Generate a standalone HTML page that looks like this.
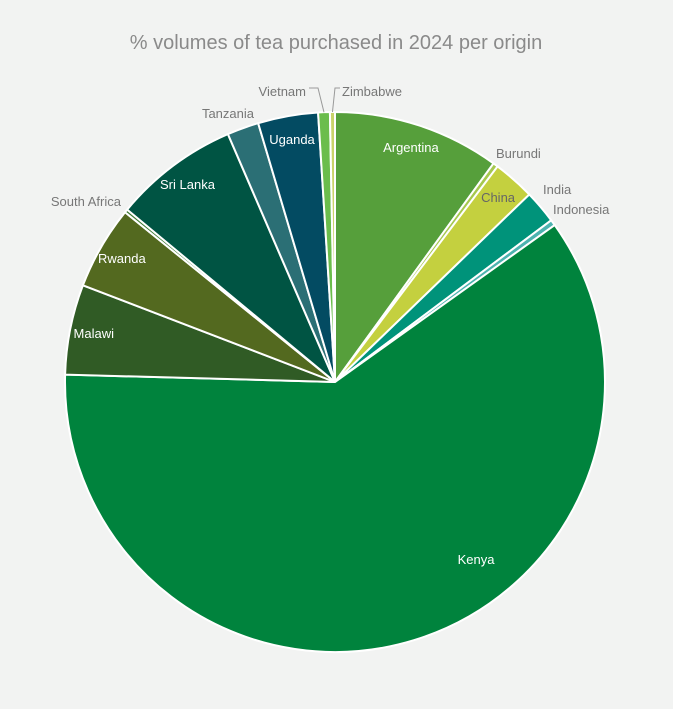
<!DOCTYPE html>
<html><head><meta charset="utf-8"><style>
body{margin:0;background:#f2f3f2;}
svg{display:block;font-family:"Liberation Sans",sans-serif;}
</style></head><body>
<svg width="673" height="709">
<rect width="673" height="709" fill="#f2f3f2"/>
<text x="336" y="49" text-anchor="middle" font-size="20" fill="#8a8a8a">% volumes of tea purchased in 2024 per origin</text>
<g id="slices"></g><g id="labels"></g>
</svg>
<script>
const categories=["Argentina","Burundi","China","India","Indonesia","Kenya","Malawi","Rwanda","South Africa","Sri Lanka","Tanzania","Uganda","Vietnam","Zimbabwe"];
const values=[10.0,0.3,2.5,2.0,0.35,60.4,5.4,5.0,0.2,7.5,1.9,3.6,0.7,0.3];
const colors=["#569f3b","#a6c84e","#c4d03f","#00937a","#4db3b0","#00833d","#305b25","#53691f","#3e7a33","#005443","#2b6f75","#034b62","#6bbd4c","#c9d36a"];
const inside=[true,false,true,false,false,true,true,true,false,true,false,true,false,false];
const textColor=["#fff","#777","#666","#777","#777","#fff","#fff","#fff","#777","#fff","#777","#fff","#777","#777"];
const cx=335,cy=382,R=270,ns="http://www.w3.org/2000/svg";
const total=values.reduce((a,b)=>a+b,0);
function pt(a,r){return [cx+r*Math.sin(a),cy-r*Math.cos(a)];}
let a0=0;const sg=document.getElementById('slices'),lg=document.getElementById('labels');
values.forEach((v,i)=>{
 const a1=a0+v/total*2*Math.PI;
 const p0=pt(a0,R),p1=pt(a1,R),large=(a1-a0)>Math.PI?1:0;
 const p=document.createElementNS(ns,'path');
 p.setAttribute('d',`M${cx},${cy}L${p0[0]},${p0[1]}A${R},${R} 0 ${large} 1 ${p1[0]},${p1[1]}Z`);
 p.setAttribute('fill',colors[i]);p.setAttribute('stroke','#fff');p.setAttribute('stroke-width','2');
 
 
 sg.appendChild(p);
 const m=(a0+a1)/2;
 const t=document.createElementNS(ns,'text');
 let q;
 if(inside[i]){q=pt(m,246);if(i==5)q=[cx+141,cy+178];t.setAttribute('text-anchor','middle');}
 else{q=pt(m,292);
  if(i==12){q=[306,92];const l=document.createElementNS(ns,'polyline');const e=pt(m,R);l.setAttribute('points',`${q[0]+3},${q[1]-4} ${q[0]+12},${q[1]-4} ${e[0]},${e[1]}`);l.setAttribute('fill','none');l.setAttribute('stroke','#999');
   
   lg.appendChild(l);}
  if(i==13){q=[342,92];const l=document.createElementNS(ns,'polyline');const e=pt(m,R);l.setAttribute('points',`${q[0]-2},${q[1]-4} ${q[0]-7},${q[1]-4} ${e[0]},${e[1]}`);l.setAttribute('fill','none');l.setAttribute('stroke','#999');
   
   lg.appendChild(l);}
  if(i==1){q=[496,154];}
  if(i==4){q=[553,210];}
  if(i==3){q=[543,190];}
  t.setAttribute('text-anchor',(i==12)?'end':(q[0]<cx?'end':'start'));
  if(i==8)q=[121,202];
  if(i==10)q=[254,114];
 }
 t.setAttribute('x',q[0]);t.setAttribute('y',q[1]+4);t.setAttribute('font-size','13');t.setAttribute('fill',textColor[i]);
 t.textContent=categories[i];
 
 
 lg.appendChild(t);
 a0=a1;
});
</script>
</body></html>
